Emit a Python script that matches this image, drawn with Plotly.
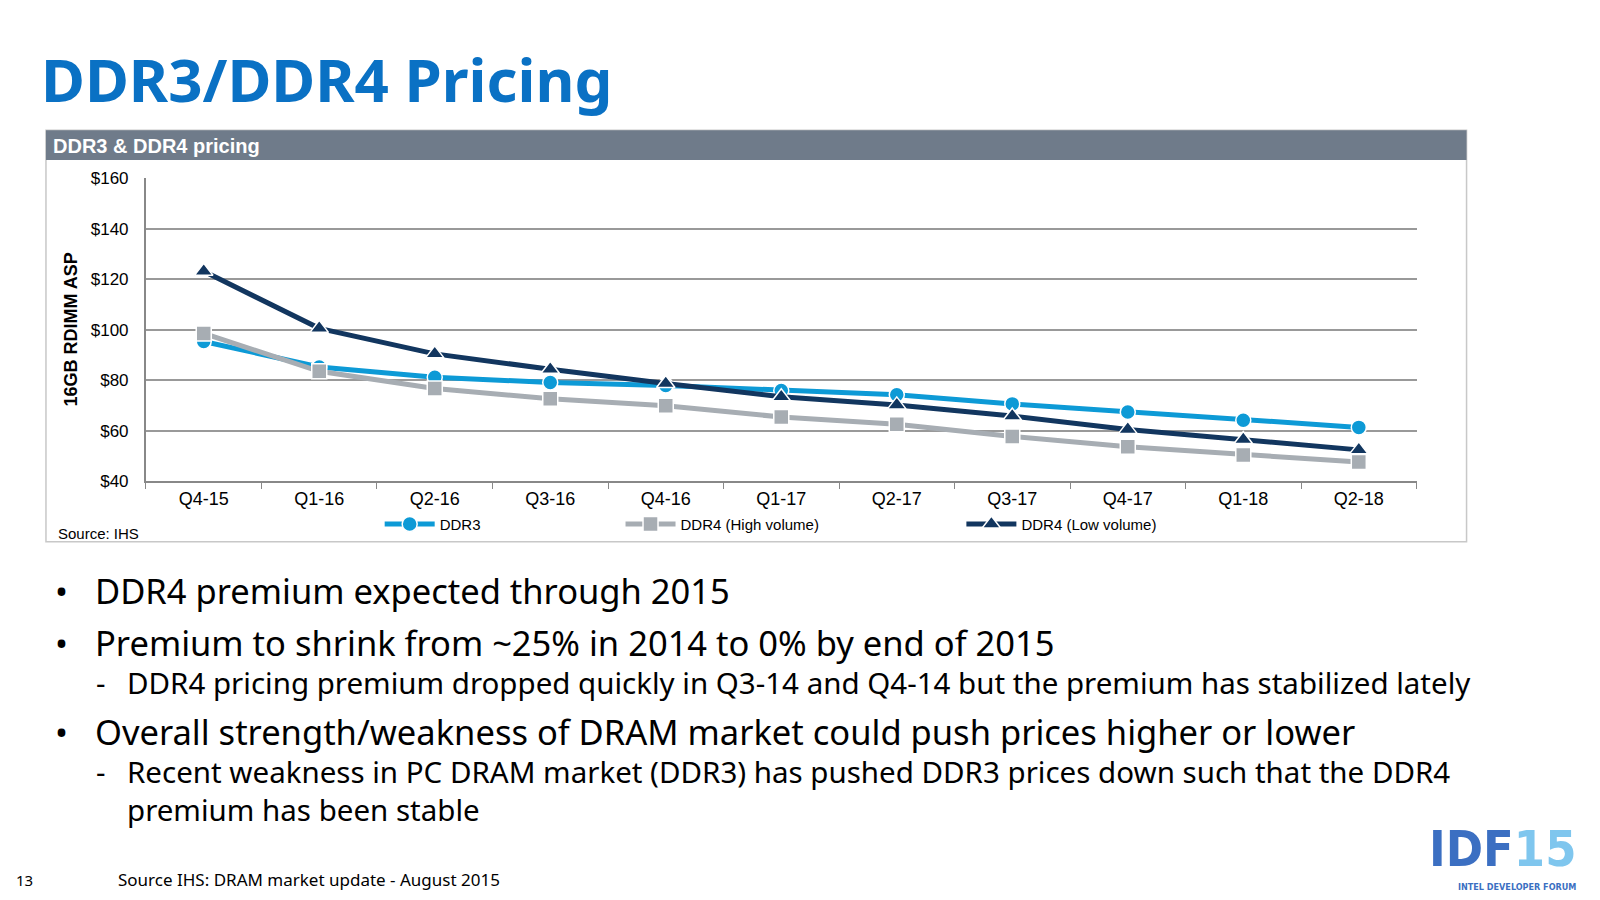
import plotly.graph_objects as go

# Data
quarters = ["Q4-15", "Q1-16", "Q2-16", "Q3-16", "Q4-16", "Q1-17",
            "Q2-17", "Q3-17", "Q4-17", "Q1-18", "Q2-18"]
ddr3 = [95.4, 85.3, 81.2, 79.2, 78.0, 76.0, 74.3, 70.7, 67.5, 64.2, 61.4]
ddr4_high = [98.6, 83.6, 76.8, 72.7, 70.0, 65.5, 62.6, 57.8, 53.7, 50.5, 47.7]
ddr4_low = [123.2, 100.6, 90.5, 84.4, 78.8, 73.5, 70.3, 65.9, 60.6, 56.6, 52.5]
y_ticks = [40, 60, 80, 100, 120, 140, 160]

# layout positions measured on the reference image, mapped to paper coords
W, H = 1560, 878
def px(x): return ((x - 7.8) / 1.005) / W
def py(y): return 1 - ((y - 17) / 0.983) / H

fig = go.Figure()
series = [
    ("DDR3", ddr3, "#0d9ad6", "circle", 15, "legend", 372),
    ("DDR4 (High volume)", ddr4_high, "#a7adb3", "square", 15, "legend2", 608),
    ("DDR4 (Low volume)", ddr4_low, "#12365f", "triangle-up", 16, "legend3", 942),
]
legends = {}
for name, vals, col, sym, sz, leg, lx in series:
    fig.add_trace(go.Scatter(
        x=quarters, y=vals, mode="lines+markers", name=name, legend=leg, showlegend=True,
        line=dict(color=col, width=5),
        marker=dict(symbol=sym, size=sz, color=col, line=dict(color="white", width=1.5)),
    ))
    legends[leg] = dict(orientation="h", x=px(lx), y=py(514), xanchor="left",
                        yanchor="middle", font=dict(size=15), bgcolor="rgba(0,0,0,0)",
                        itemwidth=50, visible=True)

fig.update_layout(
    width=1600, height=900, margin=dict(l=0, r=0, t=0, b=0), showlegend=True,
    paper_bgcolor="white", plot_bgcolor="white",
    font=dict(family="Liberation Sans, Arial", color="black", size=18),
    xaxis=dict(domain=[px(143), px(1388)], range=[-0.5, 10.5], tickson="boundaries",
               ticks="outside", ticklen=6, tickcolor="#888", showline=True,
               linecolor="#888", linewidth=2, showgrid=False, tickfont=dict(size=18)),
    yaxis=dict(domain=[py(472), py(175)], range=[40, 160], tickvals=y_ticks,
               ticktext=[f"${v}" for v in y_ticks], showline=True, linecolor="#888",
               linewidth=2, gridcolor="#999", gridwidth=1.5, zeroline=False,
               ticks="", ticklabelstandoff=12, tickfont=dict(size=17)),
    **legends,
)

shapes = [
    dict(type="rect", xref="paper", yref="paper", x0=px(45), x1=px(1437),
         y0=py(531), y1=py(128), line=dict(color="#c8c8c8", width=1.5)),
    dict(type="rect", xref="paper", yref="paper", x0=px(45), x1=px(1437),
         y0=py(157), y1=py(128), fillcolor="#6f7b8a", line=dict(width=0)),
]
fig.update_layout(shapes=shapes)

def note(x, y, text, size, color="black", family="Noto Sans", anchor="left", **kw):
    fig.add_annotation(xref="paper", yref="paper", x=px(x), y=py(y), text=text,
                       showarrow=False, xanchor=anchor, yanchor="middle",
                       font=dict(size=size, color=color, family=family), **kw)

note(38, 78, "<b>DDR3/DDR4 Pricing</b>", 60, "#0a71c4")
note(50, 143, "<b>DDR3 & DDR4 pricing</b>", 20, "white", "Liberation Sans, Arial")
note(55, 523, "Source: IHS", 15, "black", "Liberation Sans, Arial")
fig.add_annotation(xref="paper", yref="paper", x=px(58), y=py(323), text="<b>16GB RDIMM ASP</b>",
                   showarrow=False, textangle=-90, font=dict(size=18, family="Liberation Sans, Arial"))

bullets = [
    (52, 91, 579, "DDR4 premium expected through 2015", 34.5),
    (52, 91, 630, "Premium to shrink from ~25% in 2014 to 0% by end of 2015", 34.5),
    (92, 122, 669, "DDR4 pricing premium dropped quickly in Q3-14 and Q4-14 but the premium has stabilized lately", 29.5),
    (52, 91, 717, "Overall strength/weakness of DRAM market could push prices higher or lower", 34.5),
    (92, 122, 756, "Recent weakness in PC DRAM market (DDR3) has pushed DDR3 prices down such that the DDR4", 29.5),
]
for bx, tx, y, text, size in bullets:
    note(bx, y, "•" if bx == 52 else "-", size)
    note(tx, y, text, size)
note(122, 793, "premium has been stable", 29.5)

note(14, 862, "13", 15)
note(114, 862, "Source IHS: DRAM market update - August 2015", 17)

note(1546, 832, "<b>IDF</b><span style='color:#7fc6ee'><b>15</b></span>", 50, "#3b6fc2",
     "DejaVu Sans Condensed", anchor="right")
note(1546, 869, "<b>INTEL DEVELOPER FORUM</b>", 9, "#3b6fc2", "DejaVu Sans Condensed",
     anchor="right")

fig.write_html("out.html")
